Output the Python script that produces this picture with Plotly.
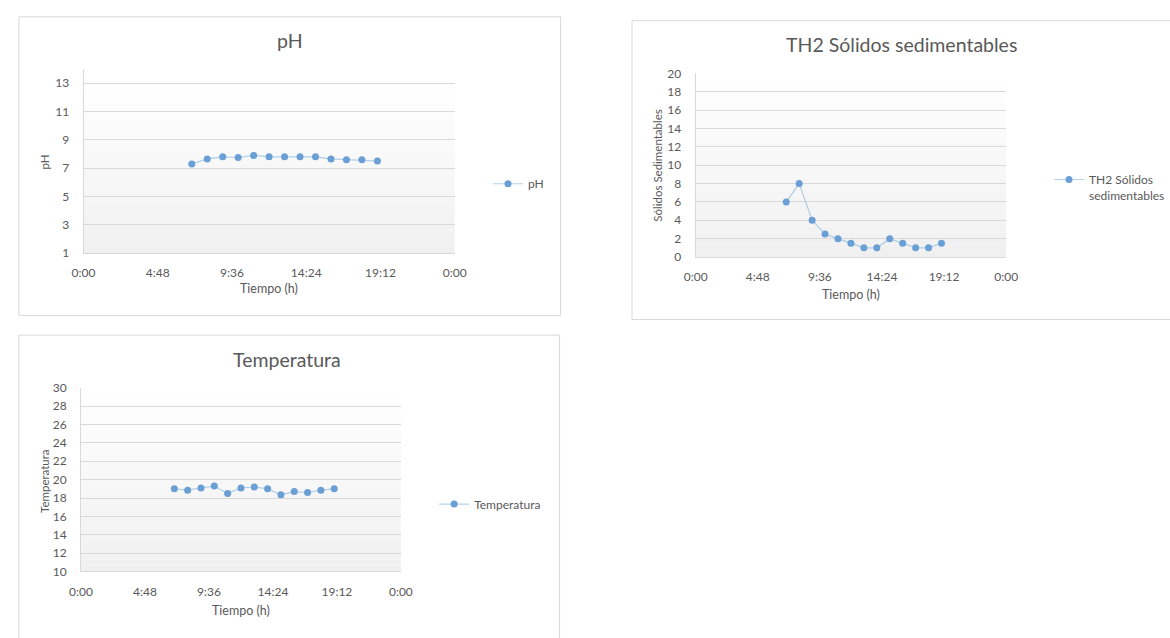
import plotly.graph_objects as go

# ---------------- data ----------------
hours = ["7:00", "8:00", "9:00", "10:00", "11:00", "12:00", "13:00",
         "14:00", "15:00", "16:00", "17:00", "18:00", "19:00"]
ph_values = [7.3, 7.65, 7.8, 7.75, 7.9, 7.8, 7.8, 7.8, 7.8, 7.65, 7.6, 7.6, 7.5]
solidos_values = [6, 8, 4, 2.5, 2, 1.5, 1, 1, 2, 1.5, 1, 1, 1.5]
temp_values = [19.0, 18.85, 19.1, 19.3, 18.5, 19.1, 19.2, 19.0, 18.35, 18.7, 18.6, 18.85, 19.0]

x_tickvals = [0, 4.8, 9.6, 14.4, 19.2, 24]
x_ticktext = ["0:00", "4:48", "9:36", "14:24", "19:12", "0:00"]
ph_ticks = [1, 3, 5, 7, 9, 11, 13]
sol_ticks = [0, 2, 4, 6, 8, 10, 12, 14, 16, 18, 20]
temp_ticks = [10, 12, 14, 16, 18, 20, 22, 24, 26, 28, 30]


def to_hours(s):
    h, m = s.split(":")
    return int(h) + int(m) / 60.0


x_hours = [to_hours(h) for h in hours]

# ---------------- style ----------------
W, H = 1170, 638
FONT = "Lato"
TXT = "#595959"
GRID = "#d9d9d9"
MARK = "#6a9fd6"
LINE = "rgba(91,155,213,0.45)"


def px(x):
    return x / W


def py(y):
    return 1 - y / H


fig = go.Figure()

fig.add_trace(go.Scatter(x=x_hours, y=ph_values, name="pH", mode="lines+markers",
                         marker=dict(size=7, color=MARK), line=dict(color=LINE, width=1.2),
                         xaxis="x", yaxis="y", legend="legend"))
fig.add_trace(go.Scatter(x=x_hours, y=solidos_values, name="TH2 Sólidos<br>sedimentables",
                         mode="lines+markers",
                         marker=dict(size=7, color=MARK), line=dict(color=LINE, width=1.2),
                         xaxis="x2", yaxis="y2", legend="legend2"))
fig.add_trace(go.Scatter(x=x_hours, y=temp_values, name="Temperatura", mode="lines+markers",
                         marker=dict(size=7, color=MARK), line=dict(color=LINE, width=1.2),
                         xaxis="x3", yaxis="y3", legend="legend3"))


def xax(domain, anchor):
    return dict(domain=domain, anchor=anchor, range=[0, 24], tickvals=x_tickvals,
                ticktext=x_ticktext, showgrid=False, zeroline=False, showline=True,
                linecolor=GRID, linewidth=1, ticks="", ticklabelstandoff=9,
                tickfont=dict(family=FONT, size=12, color=TXT))


def yax(domain, anchor, rng, ticks):
    return dict(domain=domain, anchor=anchor, range=rng, tickvals=ticks,
                showgrid=True, gridcolor=GRID, gridwidth=1, zeroline=False,
                showline=True, linecolor=GRID, linewidth=1, ticks="", ticklabelstandoff=11,
                tickfont=dict(family=FONT, size=12, color=TXT))


LEG = dict(family=FONT, size=12, color=TXT)
fig.update_layout(
    width=W, height=H, margin=dict(l=0, r=0, t=0, b=0),
    paper_bgcolor="white", plot_bgcolor="rgba(0,0,0,0)",
    font=dict(family=FONT, color=TXT),
    xaxis=xax([px(73), px(452)], "y"),
    yaxis=yax([py(251), py(62.5)], "x", [1, 14], ph_ticks),
    xaxis2=xax([px(698), px(1015)], "y2"),
    yaxis2=yax([py(255), py(67)], "x2", [0, 20], sol_ticks),
    xaxis3=xax([px(70.5), px(397)], "y3"),
    yaxis3=yax([py(577), py(389)], "x3", [10, 30], temp_ticks),
    legend=dict(x=px(486), y=py(180), xanchor="left", yanchor="middle",
                font=LEG, bgcolor="rgba(0,0,0,0)"),
    legend2=dict(x=px(1059), y=py(161), xanchor="left", yanchor="top", valign="top",
                 font=LEG, bgcolor="rgba(0,0,0,0)"),
    legend3=dict(x=px(431), y=py(508), xanchor="left", yanchor="middle",
                 font=LEG, bgcolor="rgba(0,0,0,0)"),
    showlegend=True,
)

# chart cards
cards = [(7, 9, 560, 315), (633, 13, 1185, 319), (7, 335, 559, 650)]
for (x0, y0, x1, y1) in cards:
    fig.add_shape(type="rect", xref="paper", yref="paper", x0=px(x0), x1=px(x1),
                  y0=py(y1), y1=py(y0), line=dict(color="#d9d9d9", width=1),
                  fillcolor="white", layer="below")

# gradient plot areas (white at top -> light gray at bottom)
areas = [("x", "y", 1, 13), ("x2", "y2", 0, 20), ("x3", "y3", 10, 30)]
N = 30
for xr, yr, lo, hi in areas:
    for i in range(N):
        t = i / (N - 1)
        g = int(round(240 + (255 - 240) * t))
        fig.add_shape(type="rect", xref=f"{xr} domain", yref=yr, x0=0, x1=1,
                      y0=lo + (hi - lo) * i / N, y1=lo + (hi - lo) * (i + 1) / N,
                      line=dict(width=0), fillcolor=f"rgb({g},{g},{g})", layer="below")

# chart titles
titles = [("pH", 284, 33), ("TH2 Sólidos sedimentables", 908, 37), ("Temperatura", 281, 360)]
for text, cx, cy in titles:
    fig.add_annotation(text=text, xref="paper", yref="paper", x=px(cx), y=py(cy),
                       xanchor="center", yanchor="middle", showarrow=False,
                       font=dict(family=FONT, size=19.5, color=TXT))

# axis titles
x_titles = [(262.5, 287), (856.5, 293), (234, 617)]
for cx, cy in x_titles:
    fig.add_annotation(text="Tiempo (h)", xref="paper", yref="paper", x=px(cx), y=py(cy),
                       xanchor="center", yanchor="middle", showarrow=False,
                       font=dict(family=FONT, size=12.5, color=TXT))
y_titles = [("pH", 33, 158), ("Sólidos Sedimentables", 659, 161), ("Temperatura", 33, 484)]
for text, cx, cy in y_titles:
    fig.add_annotation(text=text, xref="paper", yref="paper", x=px(cx), y=py(cy),
                       xanchor="center", yanchor="middle", showarrow=False, textangle=-90,
                       font=dict(family=FONT, size=11.5, color=TXT))

fig.write_html("out.html",
               post_script="document.body.style.margin='0';document.body.style.overflow='hidden';")
